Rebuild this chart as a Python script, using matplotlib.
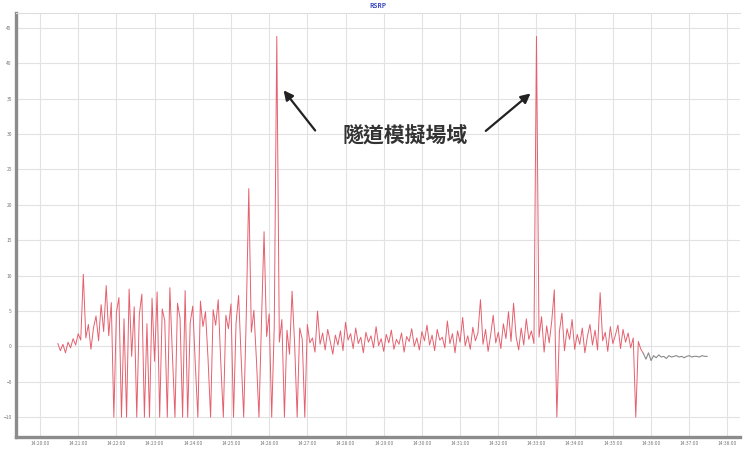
import numpy as np
import matplotlib.pyplot as plt

plt.rcParams['font.family'] = ['Noto Sans CJK TC', 'DejaVu Sans']

# RSRP samples, one every 4 s
sample_step = 4
start_t = 28

# entering the tunnel: strong fading with deep drop-outs
rsrp_tunnel = [
    0.4, -0.6, 0.3, -0.9, 0.6, -0.2, 1.1, 0.2, 1.8, 0.9,
    10.2, 1.2, 3.1, -0.4, 2.6, 4.3, 0.8, 5.9, 2.1, 8.6,
    1.5, 6.2, -10, 4.8, 6.9, -10, 3.9, -10, 8.1, -1.4,
    5.6, -10, 4.5, 7.4, -10, 3.2, -10, 6.8, -2.1, 7.7,
    -10, 5.3, 3.6, -10, 8.3, -1.2, -10, 6.1, 4.0, -10,
    7.9, -10, 3.4, 5.7, -2.6, -10, 6.4, 2.8, 4.9, -1.8,
    -10, 5.2, 3.0, 6.6, -2.3, -10, 4.4, 2.5, 6.0, -10,
    3.3, 7.2, -1.6, -10, 4.1, 22.3, 2.0, 5.1, -1.9, -10,
    3.7, 16.2, 1.4, 4.6, -10, 2.7, 43.8, 0.6, 3.8, -10,
    2.3, -1.1, 7.8, 0.4, -10, 2.6, 1.0, -10, 3.1, 0.5,
]

# inside the tunnel: steady signal
rsrp_inside = [
    1.2, -0.8, 5.0, 0.3, 1.9, -0.5, 2.4, 0.7, -1.1, 1.6,
    0.2, 2.2, -0.6, 3.4, 0.9, 1.8, -0.3, 2.6, 0.4, 1.3,
    -0.9, 2.0, 0.6, 1.5, -0.2, 2.8, 0.1, 1.1, -0.7, 1.7,
    0.5, 2.3, -0.4, 1.0, 0.3, 1.9, -0.8, 1.4, 0.7, 2.5,
    0.0, 1.2, -0.5, 2.1, 0.8, 3.0, 0.2, 1.6, -0.6, 2.4,
    0.9, 1.3, -0.2, 3.6, 0.4, 1.8, -0.9, 2.2, 0.6, 4.1,
    0.1, 1.5, -0.4, 2.7, 0.8, 1.9, 6.6, 0.3, 2.4, -0.7,
    1.6, 4.4, 0.5, 2.0, -0.3, 3.2, 1.1, 4.9, 0.7, 6.1,
    1.4, -0.5, 2.6, 0.2, 3.9, 1.0, 2.2, 0.4,
]

# leaving the tunnel
rsrp_exit = [
    43.8, 1.3, 4.2, -0.8, 2.9, 0.5, 3.6, 8.0, -10, 2.1,
    4.7, -0.6, 2.5, 1.0, 3.8, -0.4, 1.7, 0.3, 2.6, -0.9,
    1.4, 3.1, 0.2, 2.3, -0.5, 7.6, 0.8, 2.0, -0.7, 2.8,
    0.4, 1.6, 3.0, -0.3, 2.4, 0.6, 1.9, -0.2, 1.2, -10,
    0.7, -0.4, -1.0,
]

# idle tail after the run
rsrp_idle = [
    -1.0, -1.8, -0.9, -2.0, -1.3, -1.6, -1.2, -1.5, -1.4, -1.7,
    -1.3, -1.5, -1.4, -1.3, -1.5, -1.4, -1.6, -1.4, -1.3, -1.5,
    -1.4, -1.4, -1.5, -1.3, -1.4, -1.4,
]

y_ticks = [-10, -5, 0, 5, 10, 15, 20, 25, 30, 35, 40, 45]
x_ticks = list(range(0, 1081, 60))
x_labels = [f"14:{20 + k:02d}:00" for k in range(len(x_ticks))]

rsrp = rsrp_tunnel + rsrp_inside + rsrp_exit
t = start_t + sample_step * np.arange(len(rsrp))
t_idle = t[-1] + sample_step * np.arange(len(rsrp_idle))

fig = plt.figure(figsize=(7.45, 4.51), dpi=100)
ax = fig.add_axes([0.0215, 0.031, 0.972, 0.94])

ax.plot(t, rsrp, color='#e5606e', lw=0.7)
ax.plot(t_idle, rsrp_idle, color='#8a8a8a', lw=0.8)

ax.set_xlim(-37.7, 1100)
ax.set_ylim(-12.8, 47.1)
ax.set_xticks(x_ticks)
ax.set_xticklabels(x_labels)
ax.set_yticks(y_ticks)
ax.tick_params(labelsize=3.5, colors='#777777', length=0, pad=3)
ax.grid(color='#e2e2e2', lw=0.8)
ax.set_axisbelow(True)

for side in ['left', 'bottom']:
    ax.spines[side].set_color('#8c8c8c')
    ax.spines[side].set_linewidth(2.4)
ax.spines['top'].set_color('#dddddd')
ax.spines['top'].set_linewidth(0.8)
ax.spines['right'].set_visible(False)

ax.set_title('RSRP', fontsize=4.5, color='#3a48c0', fontweight='bold', pad=4)

ax.text(573, 29.7, '隧道模擬場域', fontsize=15, fontweight='bold',
        color='#333333', ha='center', va='center')
arrow = dict(arrowstyle='-|>', color='#222222', lw=1.6, mutation_scale=14)
ax.annotate('', xy=(380, 36.5), xytext=(435, 30.2), arrowprops=arrow)
ax.annotate('', xy=(774, 36.0), xytext=(697, 30.2), arrowprops=arrow)

fig.savefig('out.png', dpi=100)
